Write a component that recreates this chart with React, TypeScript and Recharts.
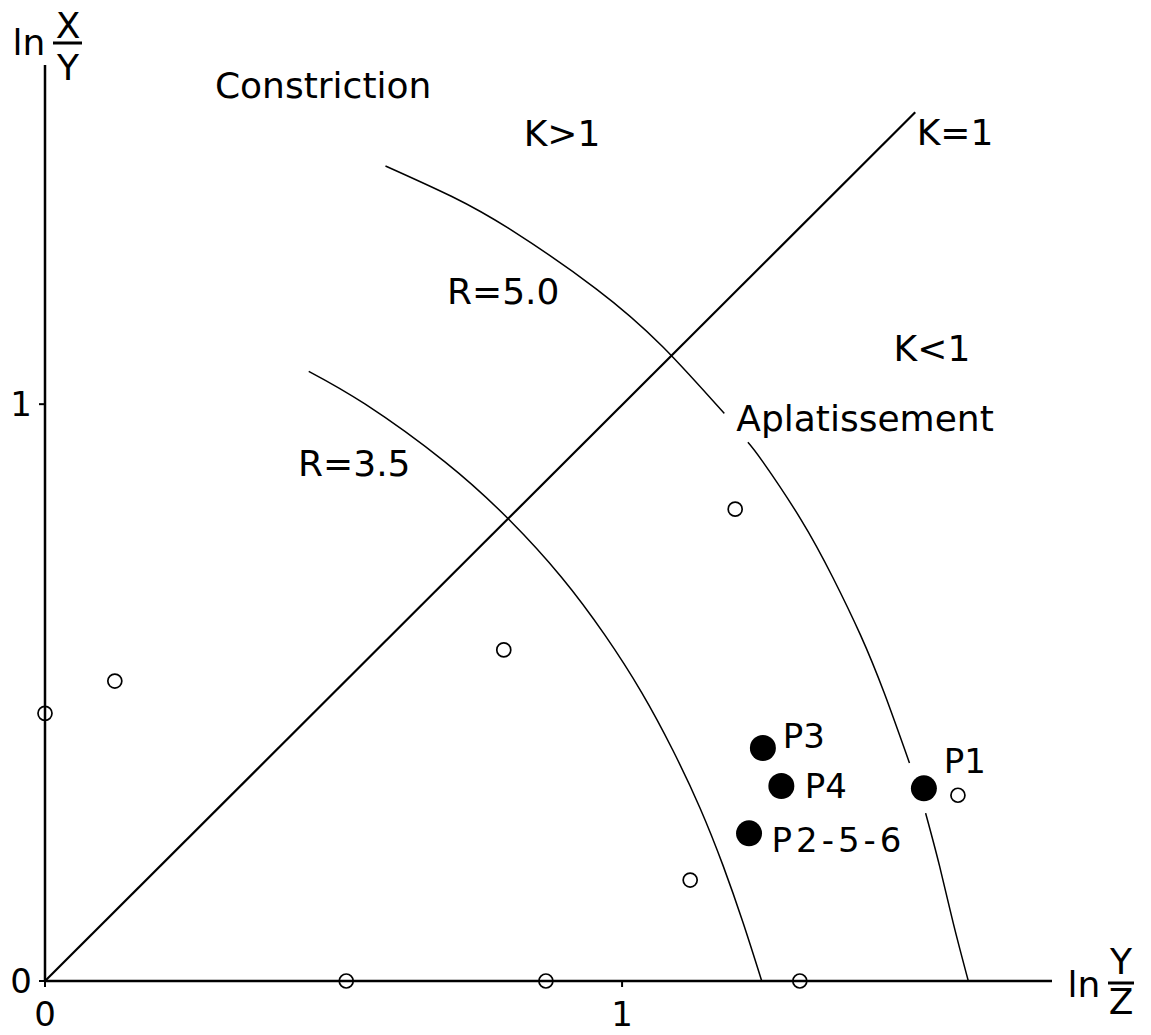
import React from 'react';
import { ComposedChart, XAxis, YAxis, Line, Scatter, ReferenceDot } from 'recharts';

// ---- axis data ----
const xTicks = [0, 1];
const yTicks = [0, 1];
const xExtent = 1.745;
const yExtent = 1.588;

// ---- reference lines ----
const kEqualsOne = [
  { x: 0, y: 0 },
  { x: 1.508, y: 1.506 },
];

const rCurve35 = [
  { x: 0.457, y: 1.057 },
  { x: 0.555, y: 1.0 },
  { x: 0.693, y: 0.9 },
  { x: 0.804, y: 0.8 },
  { x: 0.895, y: 0.7 },
  { x: 0.97, y: 0.6 },
  { x: 1.034, y: 0.5 },
  { x: 1.088, y: 0.4 },
  { x: 1.135, y: 0.3 },
  { x: 1.175, y: 0.2 },
  { x: 1.21, y: 0.1 },
  { x: 1.242, y: 0 },
];

const rCurve50 = [
  { x: 0.59, y: 1.413 },
  { x: 0.705, y: 1.36 },
  { x: 0.811, y: 1.3 },
  { x: 0.955, y: 1.2 },
  { x: 1.07, y: 1.1 },
  { x: 1.177, y: 0.984 },
  { x: 1.2, y: null },
  { x: 1.218, y: 0.934 },
  { x: 1.244, y: 0.9 },
  { x: 1.31, y: 0.8 },
  { x: 1.365, y: 0.7 },
  { x: 1.413, y: 0.6 },
  { x: 1.454, y: 0.5 },
  { x: 1.498, y: 0.378 },
  { x: 1.51, y: null },
  { x: 1.526, y: 0.291 },
  { x: 1.55, y: 0.2 },
  { x: 1.574, y: 0.1 },
  { x: 1.6, y: 0 },
];

// ---- samples ----
const openSamples = [
  { x: 0, y: 0.464 },
  { x: 0.121, y: 0.52 },
  { x: 0.795, y: 0.574 },
  { x: 1.196, y: 0.818 },
  { x: 1.118, y: 0.175 },
  { x: 1.582, y: 0.322 },
  { x: 0.522, y: 0 },
  { x: 0.868, y: 0 },
  { x: 1.308, y: 0 },
];

const filledSamples = [
  { x: 1.244, y: 0.404 },
  { x: 1.276, y: 0.338 },
  { x: 1.22, y: 0.256 },
  { x: 1.523, y: 0.334 },
];

const sampleLabels = [
  { text: 'P3', x: 1.315, y: 0.426 },
  { text: 'P4', x: 1.353, y: 0.339 },
  { text: 'P2-5-6', x: 1.375, y: 0.244 },
  { text: 'P1', x: 1.594, y: 0.382 },
];

const regionLabels = [
  { text: 'Constriction', x: 0.482, y: 1.553 },
  { text: 'K>1', x: 0.896, y: 1.47 },
  { text: 'K=1', x: 1.577, y: 1.471 },
  { text: 'K<1', x: 1.537, y: 1.097 },
  { text: 'R=5.0', x: 0.794, y: 1.196 },
  { text: 'R=3.5', x: 0.536, y: 0.898 },
  { text: 'Aplatissement', x: 1.421, y: 0.976 },
];

const FONT = 'DejaVu Sans';

const OpenCircle = (props: any) => (
  <circle cx={props.cx} cy={props.cy} r={7} fill="none" stroke="#000" strokeWidth={1.7} />
);

const FilledCircle = (props: any) => (
  <circle cx={props.cx} cy={props.cy} r={13} fill="#000" />
);

const RegionText = (props: any) => (
  <text
    x={props.cx}
    y={props.cy}
    dy="0.36em"
    textAnchor="middle"
    fontFamily={FONT}
    fontSize={36}
    fill="#000"
  >
    {props.payload.text}
  </text>
);

const SampleText = (props: any) => (
  <text
    x={props.cx}
    y={props.cy}
    dy="0.36em"
    textAnchor="middle"
    fontFamily={FONT}
    fontSize={34}
    letterSpacing={props.payload.text.length > 3 ? 4 : 0}
    fill="#000"
  >
    {props.payload.text}
  </text>
);

const YTitle = (props: any) => {
  const { cx, cy } = props;
  return (
    <g fontFamily={FONT} fontSize={36} fill="#000">
      <text x={cx - 16} y={cy - 10} textAnchor="middle">ln</text>
      <text x={cx + 23} y={cy - 27} textAnchor="middle">X</text>
      <line x1={cx + 8} x2={cx + 37} y1={cy - 22} y2={cy - 22} stroke="#000" strokeWidth={3} />
      <text x={cx + 23} y={cy + 15} textAnchor="middle">Y</text>
    </g>
  );
};

const XTitle = (props: any) => {
  const { cx, cy } = props;
  return (
    <g fontFamily={FONT} fontSize={36} fill="#000">
      <text x={cx + 32} y={cy + 16} textAnchor="middle">ln</text>
      <text x={cx + 69} y={cy - 7} textAnchor="middle">Y</text>
      <line x1={cx + 56} x2={cx + 82} y1={cy + 2} y2={cy + 2} stroke="#000" strokeWidth={3} />
      <text x={cx + 69} y={cy + 33} textAnchor="middle">Z</text>
    </g>
  );
};

export default function App() {
  return (
    <div style={{ margin: '-8px', width: 1151, height: 1035 }}>
      <ComposedChart
        width={1151}
        height={1035}
        margin={{ top: 65, right: 99, bottom: 0, left: 0 }}
      >
        <XAxis
          type="number"
          dataKey="x"
          domain={[0, xExtent]}
          ticks={xTicks}
          tickSize={6}
          tickMargin={15}
          height={54}
          axisLine={{ stroke: '#000', strokeWidth: 2.5 }}
          tickLine={{ stroke: '#000', strokeWidth: 2 }}
          tick={{ fill: '#000', fontSize: 34, fontFamily: FONT }}
          tickFormatter={(v: number) => String(v)}
        />
        <YAxis
          type="number"
          dataKey="y"
          domain={[0, yExtent]}
          ticks={yTicks}
          tickSize={6}
          tickMargin={7}
          width={45}
          axisLine={{ stroke: '#000', strokeWidth: 2.5 }}
          tickLine={{ stroke: '#000', strokeWidth: 2 }}
          tick={{ fill: '#000', fontSize: 34, fontFamily: FONT }}
          tickFormatter={(v: number) => String(v)}
        />
        <Line
          data={kEqualsOne}
          dataKey="y"
          type="linear"
          stroke="#000"
          strokeWidth={2.2}
          dot={false}
          activeDot={false}
          isAnimationActive={false}
        />
        <Line
          data={rCurve35}
          dataKey="y"
          type="natural"
          stroke="#000"
          strokeWidth={1.5}
          dot={false}
          activeDot={false}
          isAnimationActive={false}
        />
        <Line
          data={rCurve50}
          dataKey="y"
          type="natural"
          stroke="#000"
          strokeWidth={1.5}
          dot={false}
          activeDot={false}
          connectNulls={false}
          isAnimationActive={false}
        />
        <Scatter data={openSamples} shape={OpenCircle} isAnimationActive={false} />
        <Scatter data={filledSamples} shape={FilledCircle} isAnimationActive={false} />
        <Scatter data={sampleLabels} shape={SampleText} isAnimationActive={false} />
        <Scatter data={regionLabels} shape={RegionText} isAnimationActive={false} />
        <ReferenceDot x={0} y={yExtent} r={0} shape={YTitle} ifOverflow="visible" />
        <ReferenceDot x={xExtent} y={0} r={0} shape={XTitle} ifOverflow="visible" />
      </ComposedChart>
    </div>
  );
}
